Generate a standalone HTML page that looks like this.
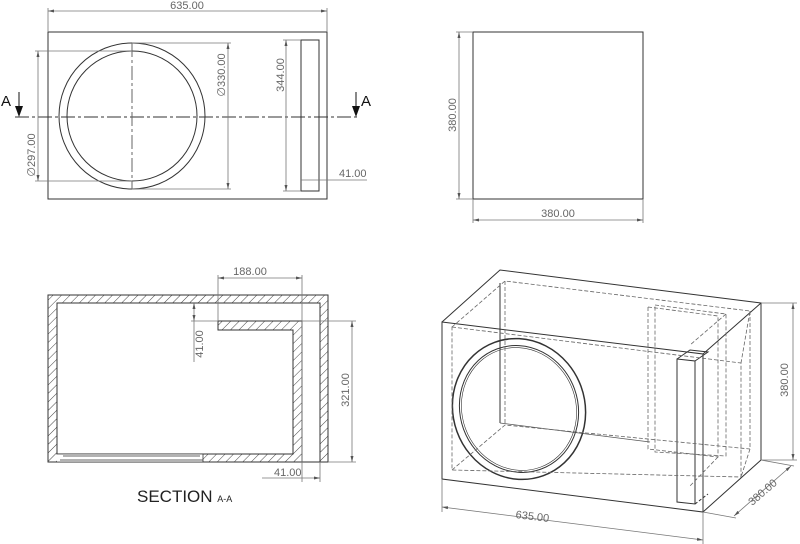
<!DOCTYPE html>
<html><head><meta charset="utf-8"><style>
html,body{margin:0;padding:0;background:#fff;}
svg{display:block;}
text{font-family:"Liberation Sans",sans-serif;fill:#666;font-size:11px;}
</style></head><body>
<svg width="800" height="544" viewBox="0 0 800 544" xmlns="http://www.w3.org/2000/svg">
<defs>
<pattern id="h" patternUnits="userSpaceOnUse" width="6" height="6" patternTransform="rotate(45)">
<line x1="0" y1="0" x2="0" y2="6" stroke="#444" stroke-width="1"/>
</pattern>
<marker id="a" markerWidth="6" markerHeight="6" refX="6" refY="3" orient="auto" markerUnits="userSpaceOnUse"><path d="M0,1.5 L6,3 L0,4.5z" fill="#555"/></marker>
<marker id="s" markerWidth="6" markerHeight="6" refX="0" refY="3" orient="auto" markerUnits="userSpaceOnUse"><path d="M6,1.5 L0,3 L6,4.5z" fill="#555"/></marker>
</defs>
<g fill="none" stroke="#333" stroke-width="1">
<rect x="48" y="32" width="279" height="167"/>
<circle cx="132" cy="116" r="73"/>
<circle cx="132" cy="116" r="65"/>
<rect x="301" y="40" width="18" height="151"/>
<line x1="15" y1="117" x2="360" y2="117" stroke-dasharray="14,3,3,3"/>
<line x1="132" y1="43" x2="132" y2="189" stroke-dasharray="14,3,3,3" stroke="#666"/>
</g>
<g fill="none" stroke="#777" stroke-width="0.8">
<line x1="48" y1="8" x2="48" y2="32"/><line x1="327" y1="8" x2="327" y2="32"/>
<line x1="48" y1="11" x2="327" y2="11" marker-start="url(#s)" marker-end="url(#a)"/>
<line x1="132" y1="43" x2="231" y2="43"/><line x1="132" y1="189" x2="231" y2="189"/>
<line x1="228" y1="43" x2="228" y2="189" marker-start="url(#s)" marker-end="url(#a)"/>
<line x1="35" y1="51" x2="132" y2="51"/><line x1="35" y1="181" x2="132" y2="181"/>
<line x1="38" y1="51" x2="38" y2="181" marker-start="url(#s)" marker-end="url(#a)"/>
<line x1="283" y1="40" x2="301" y2="40"/><line x1="283" y1="191" x2="301" y2="191"/>
<line x1="286" y1="40" x2="286" y2="191" marker-start="url(#s)" marker-end="url(#a)"/>
<line x1="301" y1="180" x2="367" y2="180"/>
</g>
<text x="187" y="9" text-anchor="middle">635.00</text>
<text transform="translate(225,75) rotate(-90)" text-anchor="middle">∅330.00</text>
<text transform="translate(35,155) rotate(-90)" text-anchor="middle">∅297.00</text>
<text transform="translate(284,75) rotate(-90)" text-anchor="middle">344.00</text>
<text x="339" y="177">41.00</text>
<text x="1" y="106" style="font-size:15px;fill:#111">A</text>
<text x="361" y="106" style="font-size:15px;fill:#111">A</text>
<line x1="19" y1="92" x2="19" y2="110" stroke="#111"/><path d="M15,106 L19,117 L23,106z" fill="#111"/>
<line x1="356" y1="92" x2="356" y2="110" stroke="#111"/><path d="M352,106 L356,117 L360,106z" fill="#111"/>

<rect x="473" y="32" width="170" height="167" fill="none" stroke="#333"/>
<g fill="none" stroke="#777" stroke-width="0.8">
<line x1="456" y1="32" x2="473" y2="32"/><line x1="456" y1="199" x2="473" y2="199"/>
<line x1="459" y1="32" x2="459" y2="199" marker-start="url(#s)" marker-end="url(#a)"/>
<line x1="473" y1="199" x2="473" y2="223"/><line x1="643" y1="199" x2="643" y2="223"/>
<line x1="473" y1="220" x2="643" y2="220" marker-start="url(#s)" marker-end="url(#a)"/>
</g>
<text transform="translate(456,115) rotate(-90)" text-anchor="middle">380.00</text>
<text x="558" y="217" text-anchor="middle">380.00</text>

<path fill="url(#h)" stroke="#333" fill-rule="evenodd" d="M48,295 H328 V462 H48 Z M57,303 V454 H203 V454 H293 V330 H218 V321 H302 V462 H320 V303 Z"/>
<rect x="57" y="454" width="146" height="8" fill="#fff" stroke="none"/>
<g fill="none" stroke="#333" stroke-width="0.8">
<line x1="57" y1="454" x2="203" y2="454"/>
<line x1="60" y1="460" x2="203" y2="460"/>
<line x1="63" y1="456" x2="200" y2="456"/>
<line x1="203" y1="454" x2="203" y2="462"/>
<line x1="48" y1="462" x2="328" y2="462"/>
</g>
<g fill="none" stroke="#777" stroke-width="0.8">
<line x1="218" y1="275" x2="218" y2="321"/><line x1="302" y1="275" x2="302" y2="482"/>
<line x1="218" y1="278" x2="302" y2="278" marker-start="url(#s)" marker-end="url(#a)"/>
<line x1="191" y1="321" x2="218" y2="321"/>
<line x1="194" y1="303" x2="194" y2="321" marker-start="url(#s)" marker-end="url(#a)"/>
<line x1="194" y1="321" x2="194" y2="362"/>
<line x1="302" y1="321" x2="356" y2="321"/><line x1="328" y1="462" x2="356" y2="462"/>
<line x1="352" y1="321" x2="352" y2="462" marker-start="url(#s)" marker-end="url(#a)"/>
<line x1="320" y1="462" x2="320" y2="482"/>
<line x1="262" y1="478" x2="320" y2="478" marker-end="url(#a)"/>
</g>
<text x="250" y="275" text-anchor="middle">188.00</text>
<text transform="translate(203,344) rotate(-90)" text-anchor="middle">41.00</text>
<text transform="translate(349,390) rotate(-90)" text-anchor="middle">321.00</text>
<text x="274" y="476">41.00</text>
<text x="137" y="502" style="font-size:17px;fill:#222">SECTION <tspan style="font-size:9px">A-A</tspan></text>

<g fill="none" stroke="#333" stroke-width="1">
<path d="M442,322 L703,354 L703,512 L442,479 Z"/>
<path d="M442,322 L500,270 L761,303 L703,354"/>
<path d="M761,303 L761,460 L703,512"/>
<line x1="500" y1="283" x2="500" y2="423"/>
<path d="M500,423 L650,442" stroke="#555" stroke-width="0.8"/>
<path d="M677,359 L695,361 L695,504 L677,502 Z"/>
<path d="M677,359 L690,350 L708,352 L695,361"/>
<line x1="695" y1="504" x2="708" y2="494" stroke-dasharray="3,2"/>
<ellipse cx="519" cy="409" rx="66" ry="71" transform="rotate(-20 519 409)" stroke-width="1.5"/>
<ellipse cx="519" cy="409" rx="59" ry="64" transform="rotate(-20 519 409)"/>
<ellipse cx="519" cy="409" rx="57" ry="62" transform="rotate(-20 519 409)" stroke-width="0.6"/>
</g>
<g fill="none" stroke="#666" stroke-width="0.8" stroke-dasharray="4,2">
<path d="M452,327 L741,363 L741,477 L452,470 Z"/>
<path d="M452,327 L505,281 L750,311 L741,363"/>
<path d="M750,311 L750,449 L741,477"/>
<path d="M452,470 L505,425 L750,449"/>
<line x1="505" y1="281" x2="505" y2="425"/>
<path d="M648,307 L718,316 L718,457 L648,449 Z"/>
<path d="M655,305 L726,314 L726,456 L655,452 Z"/>
<path d="M726,314 L690,345"/>
<path d="M718,457 L690,486"/>
</g>
<g fill="none" stroke="#777" stroke-width="0.8">
<line x1="442" y1="479" x2="442" y2="512"/><line x1="703" y1="512" x2="703" y2="546"/>
<line x1="442" y1="507" x2="703" y2="540" marker-start="url(#s)" marker-end="url(#a)"/>
<line x1="761" y1="303" x2="797" y2="303"/><line x1="761" y1="460" x2="797" y2="460"/>
<line x1="793" y1="303" x2="793" y2="460" marker-start="url(#s)" marker-end="url(#a)"/>
<line x1="703" y1="512" x2="736" y2="518"/><line x1="761" y1="460" x2="794" y2="466"/>
<line x1="734" y1="516" x2="791" y2="466" marker-start="url(#s)" marker-end="url(#a)"/>
</g>
<text transform="translate(532,520) rotate(7)" text-anchor="middle">635.00</text>
<text transform="translate(788,380) rotate(-90)" text-anchor="middle">380.00</text>
<text transform="translate(765,495) rotate(-41)" text-anchor="middle">380.00</text>
</svg>
</body></html>
